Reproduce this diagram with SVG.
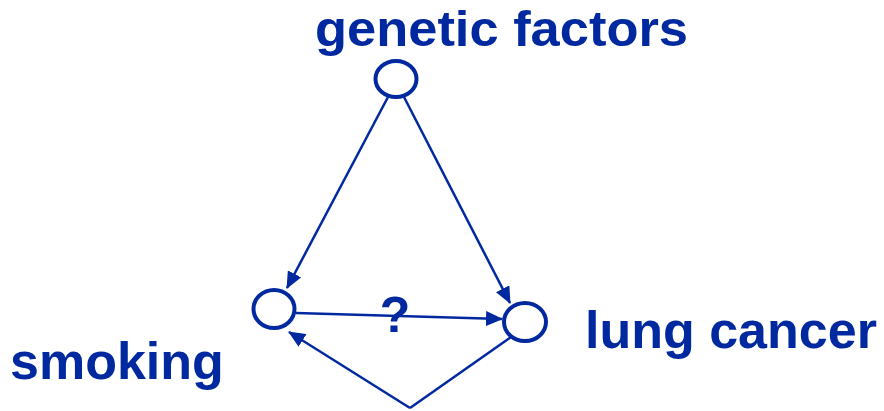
<svg xmlns="http://www.w3.org/2000/svg" width="884" height="411" viewBox="0 0 884 411">
<defs>
<style>
.lbl{font-family:"Liberation Sans",Arial,sans-serif;font-weight:bold;fill:#0029a0}
.node{fill:#fff;stroke:#0029a0;stroke-width:4}
.edge{stroke:#0029a0;stroke-width:2.5;fill:none}
</style>
<marker id="ah" markerWidth="17" markerHeight="15" refX="16" refY="7.5" orient="auto" markerUnits="userSpaceOnUse">
<path d="M0,0 L17,7.5 L0,15 z" fill="#0029a0"/>
</marker>
</defs>
<rect width="884" height="411" fill="#fff"/>
<g id="connectors">
<line class="edge" x1="388" y1="97" x2="287" y2="288" marker-end="url(#ah)"/>
<line class="edge" x1="404" y1="97" x2="510" y2="303" marker-end="url(#ah)"/>
<line class="edge" x1="296" y1="313" x2="502" y2="319" marker-end="url(#ah)"/>
<line class="edge" x1="410" y1="408" x2="289" y2="332" marker-end="url(#ah)"/>
<line class="edge" x1="410" y1="408" x2="511" y2="337"/>
<text class="lbl" x="395" y="332" font-size="50" text-anchor="middle">?</text>
</g>
<g id="genetic">
<ellipse class="node" cx="396" cy="79" rx="20.5" ry="18"/>
<text class="lbl" x="315" y="46" font-size="50" textLength="373" lengthAdjust="spacingAndGlyphs">genetic factors</text>
</g>
<g id="smoking">
<ellipse class="node" cx="274" cy="309" rx="20.5" ry="19"/>
<text class="lbl" x="10" y="379" font-size="52">smoking</text>
</g>
<g id="lungcancer">
<ellipse class="node" cx="525" cy="322" rx="21" ry="19"/>
<text class="lbl" x="585" y="348" font-size="52">lung cancer</text>
</g>
</svg>
